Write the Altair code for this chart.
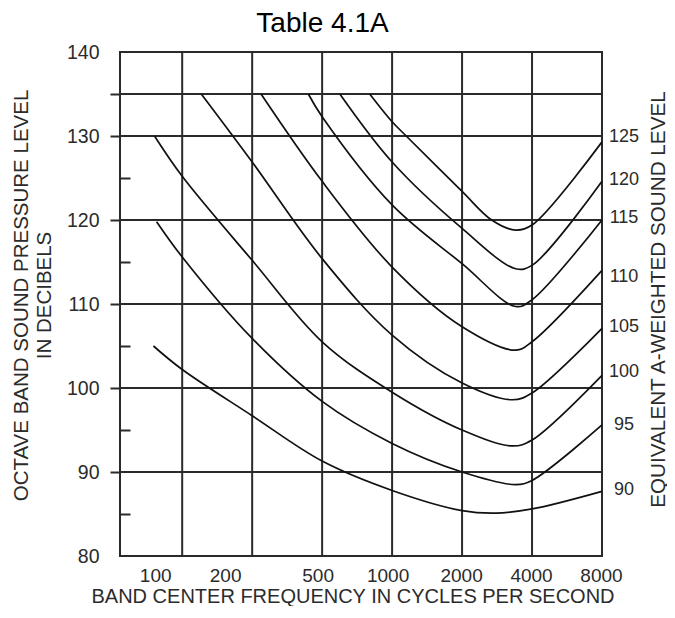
import altair as alt
import pandas as pd

TITLE = "Table 4.1A"
X_TITLE = "BAND CENTER FREQUENCY IN CYCLES PER SECOND"
Y_TITLE = ["OCTAVE BAND SOUND PRESSURE LEVEL", "IN DECIBELS"]
R_TITLE = "EQUIVALENT A-WEIGHTED SOUND LEVEL"

X_LABELS = [100, 200, 500, 1000, 2000, 4000, 8000]
X_GRID = [125, 250, 500, 1000, 2000, 4000]
Y_LABELS = [80, 90, 100, 110, 120, 130, 135, 140]
Y_GRID = [90, 100, 110, 120, 130, 135]
Y_MINOR = [85, 95, 105, 115, 125]

LEVELS = [90, 95, 100, 105, 110, 115, 120, 125]
LABEL_V = [87.9, 95.6, 101.9, 107.3, 113.2, 120.2, 124.8, 129.9]

F_90 = [94, 125, 250, 500, 1000, 2000, 2800, 4000, 8000]
L_90 = [105.0, 102.2, 96.7, 91.3, 87.8, 85.4, 85.1, 85.6, 87.7]
F_95 = [97, 125, 250, 500, 1000, 2000, 3400, 4000, 8000]
L_95 = [119.8, 115.6, 105.9, 98.4, 93.4, 90.0, 88.5, 89.0, 95.6]
F_100 = [95, 125, 250, 500, 1000, 2000, 3300, 4000, 8000]
L_100 = [130.0, 125.2, 115.2, 105.5, 99.5, 95.0, 93.1, 93.8, 101.5]
F_105 = [151, 250, 500, 1000, 2000, 3300, 4000, 8000]
L_105 = [135.0, 126.9, 115.4, 106.3, 100.6, 98.6, 99.4, 107.1]
F_110 = [273, 500, 1000, 2000, 3400, 4000, 8000]
L_110 = [135.0, 124.6, 114.4, 107.3, 104.5, 105.5, 114.0]
F_115 = [436, 500, 1000, 2000, 3400, 4000, 8000]
L_115 = [135.0, 132.3, 121.8, 114.8, 109.7, 110.5, 120.0]
F_120 = [596, 1000, 2000, 3400, 4000, 8000]
L_120 = [135.0, 126.9, 119.0, 114.2, 114.6, 124.6]
F_125 = [801, 1000, 1150, 2000, 2680, 3400, 4000, 8000]
L_125 = [135.0, 131.7, 130.0, 123.4, 120.0, 118.8, 119.4, 129.3]

CURVES = {
    90: (F_90, L_90), 95: (F_95, L_95), 100: (F_100, L_100), 105: (F_105, L_105),
    110: (F_110, L_110), 115: (F_115, L_115), 120: (F_120, L_120), 125: (F_125, L_125),
}

rows = []
for lv in LEVELS:
    fs, ls = CURVES[lv]
    for i, (f, v) in enumerate(zip(fs, ls)):
        rows.append({"curve": lv, "i": i, "f": f, "v": v})
curves_df = pd.DataFrame(rows)

lab_df = pd.DataFrame({
    "label": [str(lv) for lv in LEVELS],
    "f": [CURVES[lv][0][-1] for lv in LEVELS],
    "v": LABEL_V,
})

FONT = "Liberation Sans"
GRID_C = "#2a2a2a"
TEXT_C = "#2b2b2b"
W, H = 482, 504

xscale = alt.Scale(type="log", domain=[67.5, 8000], nice=False)
yscale = alt.Scale(domain=[80, 140], nice=False, zero=False)

vgrid = alt.Chart(pd.DataFrame({"f": X_GRID})).mark_rule(
    color=GRID_C, strokeWidth=2
).encode(x=alt.X("f:Q", scale=xscale, axis=None))

hgrid = alt.Chart(pd.DataFrame({"v": Y_GRID})).mark_rule(
    color=GRID_C, strokeWidth=2
).encode(
    y=alt.Y(
        "v:Q", scale=yscale,
        axis=alt.Axis(
            orient="left", values=Y_LABELS, labelExpr="datum.value == 135 ? '' : datum.label",
            domain=False, grid=False, ticks=True, tickSize=10, tickWidth=2, tickColor=GRID_C,
            tickOpacity={"condition": {"test": "datum.value == 80 || datum.value == 140", "value": 0}, "value": 1},
            labelPadding=11, labelFontSize=19.5, labelFont=FONT, labelColor=TEXT_C,
            labelFlush=False, labelOverlap=False, labelBaseline="middle",
            title=Y_TITLE, titleFont=FONT, titleFontSize=20.5, titleFontWeight="normal",
            titleColor=TEXT_C, titleAngle=270, titleAlign="center", titleBaseline="middle",
            titleX=-99, titleY=243, titleLineHeight=23,
        ),
    )
)

minor = alt.Chart(pd.DataFrame({"v": Y_MINOR})).mark_rule(opacity=0).encode(
    y=alt.Y(
        "v:Q", scale=yscale,
        axis=alt.Axis(
            orient="left", values=Y_MINOR, labels=False, domain=False, grid=False,
            ticks=True, tickSize=10, tickWidth=2, tickColor=GRID_C, offset=-10, title=None,
        ),
    )
)

curves = alt.Chart(curves_df).mark_line(
    color="#111111", strokeWidth=1.7, interpolate="catmull-rom"
).encode(
    x=alt.X(
        "f:Q", scale=xscale,
        axis=alt.Axis(
            orient="bottom", values=X_LABELS, format="d", ticks=False, tickSize=0,
            domain=False, grid=False, labelFontSize=19, labelFont=FONT, labelColor=TEXT_C,
            labelPadding=10,
            labelOffset={"condition": {"test": "datum.value <= 1000", "value": -4.5}, "value": -1},
            labelFlush=False, labelOverlap=False, labelBaseline="top",
            title=X_TITLE, titleFont=FONT, titleFontSize=20, titleFontWeight="normal",
            titleColor=TEXT_C, titleX=232.5, titleY=46, titleAlign="center",
            titleBaseline="alphabetic",
        ),
    ),
    y=alt.Y("v:Q", scale=yscale, axis=None),
    detail="curve:N",
    order="i:Q",
)

labels = alt.Chart(lab_df).mark_text(
    align="center", baseline="middle", dx=22, fontSize=18, font=FONT, color=TEXT_C
).encode(
    x=alt.X("f:Q", scale=xscale, axis=None),
    y=alt.Y(
        "v:Q", scale=yscale,
        axis=alt.Axis(
            orient="right", labels=False, ticks=False, domain=False, grid=False,
            title=R_TITLE, titleFont=FONT, titleFontSize=20.7, titleFontWeight="normal",
            titleColor=TEXT_C, titleAngle=270, titleAlign="center", titleBaseline="middle",
            titleX=56, titleY=247,
        ),
    ),
    text="label:N",
)

title = alt.Chart(pd.DataFrame({"t": [TITLE]})).mark_text(
    fontSize=28, font=FONT, color="#000000", align="center", baseline="alphabetic"
).encode(text="t:N", x=alt.value(202.5), y=alt.value(-20))

chart = alt.layer(vgrid, hgrid, minor, curves, labels, title).resolve_axis(
    x="independent", y="independent"
).properties(
    width=W, height=H,
    autosize=alt.AutoSizeParams(type="none"),
    padding={"left": 112, "top": 44, "right": 65, "bottom": 50},
).configure_view(stroke=GRID_C, strokeWidth=2)

chart.save("out.html", embed_options={"renderer": "svg", "actions": False})
